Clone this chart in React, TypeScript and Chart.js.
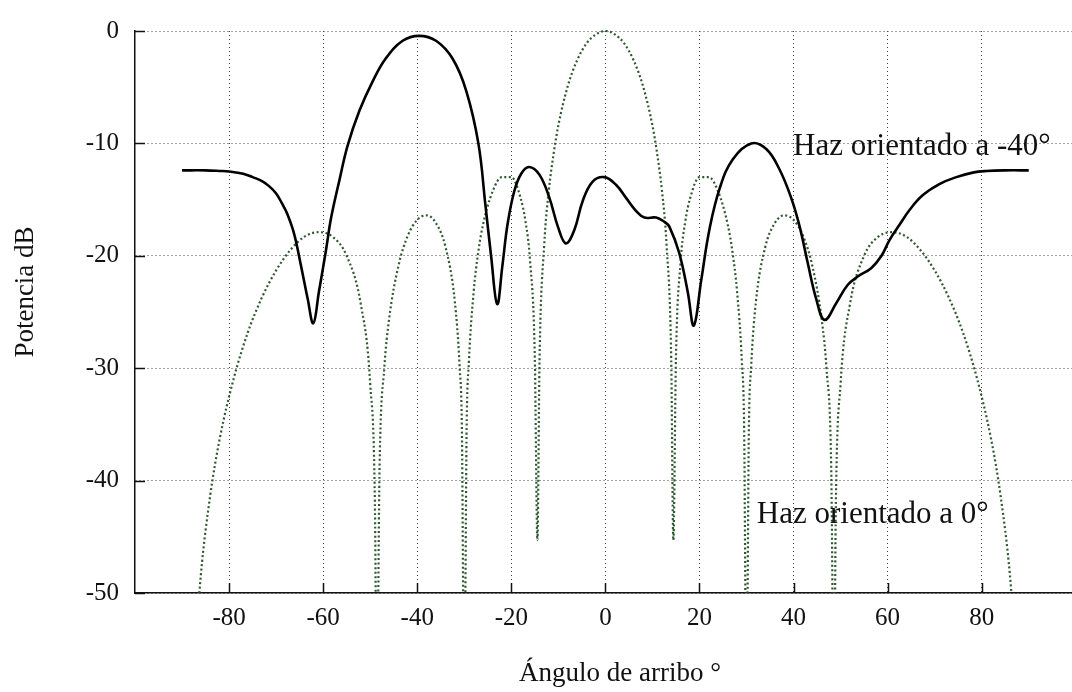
import { useEffect, useRef } from 'react';
import { Chart, registerables } from 'chart.js';

Chart.register(...registerables);

// Haz orientado a -40° (solid black)
const steeredAngles = [
  -90, -85, -82, -80, -77, -75, -73, -71.5, -70, -68.8, -67.6, -66.2, -64.7, -63.3, -62.1, -60.9, -59.4, -58.3,
  -56.5, -54.8, -52.3, -49.5, -46.7, -43.1, -39.6, -36.0, -32.5, -29.6, -27.0, -25.5, -24.3, -23.0,
  -21.9, -20.8, -19.4, -17.9, -16.2, -14.0, -11.9, -10.1, -8.4, -6.6, -4.8, -2.7, -0.2, 2.3, 4.4,
  6.5, 8.3, 10.8, 12.6, 13.6, 15.7, 17.5, 18.8, 20.4, 22.1, 24.3, 27.1, 31.0, 34.2, 37.0, 39.5,
  41.3, 43.0, 44.8, 46.6, 49.1, 51.5, 53.8, 56.5, 58.7, 60.4, 62.6, 64.7, 67.5, 71.1, 74.6, 78.1,
  81.0, 85, 90,
];
const steeredPower = [
  -12.4, -12.4, -12.45, -12.5, -12.7, -13.0, -13.35, -13.8, -14.45, -15.3, -16.3, -18.0, -20.9, -23.8, -26.0, -23.2, -19.5, -16.6,
  -13.2, -10.2, -7.1, -4.5, -2.45, -0.87, -0.43, -0.87, -2.45, -5.3, -10.0, -15.5, -20.0, -24.3,
  -20.9, -17.2, -14.3, -12.7, -12.1, -12.8, -14.85, -17.4, -18.9, -17.7, -15.1, -13.4, -13.0, -13.7, -14.85,
  -16.0, -16.6, -16.6, -17.0, -17.4, -19.75, -23.2, -26.2, -22.1, -17.7, -14.0, -11.4, -10.0, -10.5, -12.3, -14.85,
  -17.4, -20.6, -23.8, -25.7, -24.2, -22.6, -21.8, -21.1, -20.0, -18.6, -17.2, -15.9, -14.6, -13.6, -13.0, -12.6,
  -12.46, -12.4, -12.4,
];

// Haz orientado a 0° (dotted green)
const broadsideAngles = [
  -88, -86, -84, -82, -79, -76, -73, -70, -67, -64, -61, -58, -55, -52, -50, -49, -48.6, -48, -47, -46,
  -44, -42, -40, -38, -36, -34, -32, -31, -30.5, -30, -29.5, -29, -28, -27, -26, -24, -22, -20, -18,
  -17, -16, -15, -14.45, -14, -13, -12, -11, -10, -8, -6, -4, -2, 0,
  2, 4, 6, 8, 10, 11, 12, 13, 14, 14.45, 15, 16, 17, 18, 20, 22, 24, 26, 27, 28, 29, 29.5, 30, 30.5,
  31, 32, 34, 36, 38, 40, 42, 44, 46, 47, 48, 48.6, 49, 50, 52, 55, 58, 61, 64, 67, 70, 73, 76, 79,
  82, 84, 86, 88,
];
const broadsidePower = [
  -60, -48.4, -41.3, -36.3, -30.9, -26.8, -23.7, -21.3, -19.5, -18.3, -17.9, -18.3, -20.0, -24.3, -31.4, -42.0, -60, -38.6, -30.0, -25.7,
  -20.9, -18.2, -16.8, -16.4, -17.1, -19.2, -24.1, -29.8, -35.6, -60, -35.4, -29.3, -23.2, -19.6, -17.2, -14.3, -13.0, -13.0, -14.9,
  -16.9, -20.5, -29.1, -45.3, -29.3, -19.0, -14.1, -10.9, -8.4, -4.9, -2.6, -1.1, -0.3, 0,
  -0.3, -1.1, -2.6, -4.9, -8.4, -10.9, -14.1, -19.0, -29.3, -45.3, -29.1, -20.5, -16.9, -14.9, -13.0, -13.0, -14.3, -17.2, -19.6, -23.2, -29.3, -35.4, -60, -35.6,
  -29.8, -24.1, -19.2, -17.1, -16.4, -16.8, -18.2, -20.9, -25.7, -30.0, -38.6, -60, -42.0, -31.4, -24.3, -20.0, -18.3, -17.9, -18.3, -19.5, -21.3, -23.7, -26.8, -30.9,
  -36.3, -41.3, -48.4, -60,
];

const xTicks = [-80, -60, -40, -20, 0, 20, 40, 60, 80];
const yTicks = [0, -10, -20, -30, -40, -50];
const xTitle = 'Ángulo de arribo °';
const yTitle = 'Potencia dB';
const steeredLabel = 'Haz orientado a -40°';
const broadsideLabel = 'Haz orientado a 0°';
const steeredLabelPos = { x: 39.9, y: -11.07 };
const broadsideLabelPos = { x: 32.2, y: -43.75 };

const FONT = '"Liberation Serif", "Times New Roman", serif';

const decorPlugin = {
  id: 'decor',
  afterDatasetsDraw(chart: any) {
    const { ctx, chartArea, scales } = chart;
    const xs = scales.x;
    const ys = scales.y;
    ctx.save();
    // inner tick marks
    ctx.strokeStyle = '#111';
    ctx.lineWidth = 1.5;
    ctx.beginPath();
    xTicks.forEach((v) => {
      const px = Math.round(xs.getPixelForValue(v)) + 0.5;
      ctx.moveTo(px, chartArea.bottom);
      ctx.lineTo(px, chartArea.bottom - 10);
    });
    yTicks.forEach((v) => {
      const py = Math.round(ys.getPixelForValue(v)) + 0.5;
      ctx.moveTo(chartArea.left, py);
      ctx.lineTo(chartArea.left + 10, py);
    });
    ctx.stroke();
    // annotations
    ctx.fillStyle = '#111';
    ctx.font = `31px ${FONT}`;
    ctx.textAlign = 'left';
    ctx.textBaseline = 'alphabetic';
    ctx.fillText(steeredLabel, xs.getPixelForValue(steeredLabelPos.x), ys.getPixelForValue(steeredLabelPos.y));
    ctx.fillText(broadsideLabel, xs.getPixelForValue(broadsideLabelPos.x), ys.getPixelForValue(broadsideLabelPos.y));
    // axis titles
    ctx.font = `27px ${FONT}`;
    ctx.textAlign = 'center';
    ctx.fillText(xTitle, 620, 681);
    ctx.save();
    ctx.translate(33, 292);
    ctx.rotate(-Math.PI / 2);
    ctx.textAlign = 'center';
    ctx.textBaseline = 'alphabetic';
    ctx.fillText(yTitle, 0, 0);
    ctx.restore();
    ctx.restore();
  },
};

export default function App() {
  const ref = useRef<HTMLCanvasElement | null>(null);

  useEffect(() => {
    if (!ref.current) return;
    const steered = steeredAngles.map((x, i) => ({ x, y: steeredPower[i] }));
    const broadside = broadsideAngles.map((x, i) => ({ x, y: broadsidePower[i] }));
    const chart = new Chart(ref.current, {
      type: 'line',
      data: {
        datasets: [
          {
            label: steeredLabel,
            data: steered,
            borderColor: '#000',
            borderWidth: 2.6,
            pointRadius: 0,
            tension: 0.4,
            fill: false,
          },
          {
            label: broadsideLabel,
            data: broadside,
            borderColor: 'rgba(35,80,35,0.95)',
            borderWidth: 2.2,
            borderDash: [2, 2.5],
            pointRadius: 0,
            cubicInterpolationMode: 'monotone',
            fill: false,
            clip: { left: 0, top: 3, right: 0, bottom: 0 } as any,
          },
        ],
      },
      options: {
        responsive: false,
        animation: false,
        devicePixelRatio: 1,
        layout: { padding: { top: 15, right: 0, left: 0, bottom: 0 } },
        plugins: {
          legend: { display: false },
          tooltip: { enabled: false },
        },
        scales: {
          x: {
            type: 'linear',
            min: -100,
            max: 99.2,
            afterBuildTicks: (s: any) => {
              s.ticks = xTicks.map((v) => ({ value: v }));
            },
            afterFit: (s: any) => {
              s.height = 99;
            },
            grid: {
              color: '#444',
              lineWidth: 1,
              drawTicks: false,
            },
            border: { display: true, color: '#111', width: 1.5, dash: [1, 3] },
            ticks: {
              color: '#111',
              font: { family: FONT, size: 25 },
              padding: 10,
              maxRotation: 0,
              callback: (v: any) => String(v),
            },
          },
          y: {
            type: 'linear',
            min: -50,
            max: 0,
            afterBuildTicks: (s: any) => {
              s.ticks = yTicks.map((v) => ({ value: v }));
            },
            afterFit: (s: any) => {
              s.width = 135;
            },
            grid: {
              color: '#444',
              lineWidth: 1,
              drawTicks: false,
            },
            border: { display: true, color: '#111', width: 1.5, dash: [1, 3] },
            ticks: {
              color: '#111',
              font: { family: FONT, size: 25 },
              padding: 16,
              callback: (v: any) => String(v),
            },
          },
        },
      },
      plugins: [decorPlugin],
    });
    return () => chart.destroy();
  }, []);

  return (
    <div style={{ position: 'fixed', left: 0, top: 0, width: 1072, height: 692, background: '#fff' }}>
      <canvas ref={ref} width={1072} height={692} style={{ display: 'block' }} />
    </div>
  );
}
